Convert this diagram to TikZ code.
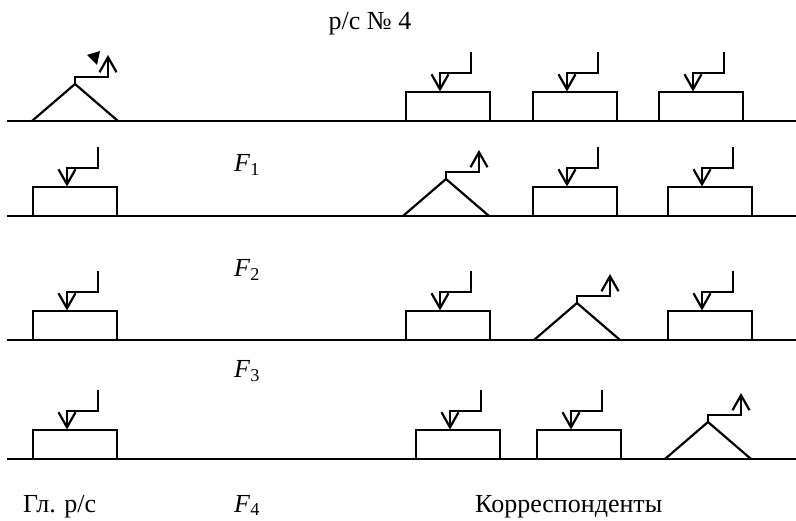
\documentclass[tikz,border=0pt]{standalone}
\usepackage{fontspec}
\setmainfont{Liberation Serif}
\usetikzlibrary{arrows.meta}
\tikzset{
  x=1pt, y=-1pt,
  thick line/.style={line width=2.2pt},
  ground/.style={line width=2.2pt},
  barb/.style={-{Straight Barb[length=15pt,width=17pt,line width=2.2pt]}},
  label text/.style={font=\fontsize{26}{30}\selectfont, inner sep=0pt, anchor=base},
  rxbox/.pic={
    \draw[thick line] (0,0) rectangle (84,-29);
    \draw[thick line, barb, line join=miter] (65,-69) -- (65,-48) -- (34,-48) -- (34,-29.5);
  },
  txstation/.pic={
    \draw[thick line, line join=miter] (0,0) -- (43,-37) -- (86,0);
    \draw[thick line, barb, line join=miter] (43,-37) -- (43,-44) -- (76,-44) -- (76,-66);
  }
}
\begin{document}
\begin{tikzpicture}
\useasboundingbox (0,0) rectangle (796,521);
% ground lines
\foreach \yy/\nm in {121/g1,216/g2,340/g3,459/g4}{
  \coordinate (\nm a) at (7,\yy);
  \coordinate (\nm b) at (796,\yy);
  \draw[ground] (\nm a) -- (\nm b);
}
% row 1
\pic at (32,121) {txstation};
\fill (87,55) -- (100,51) -- (97,65) -- cycle;
\pic at (406,121) {rxbox};
\pic at (533,121) {rxbox};
\pic at (659,121) {rxbox};
% row 2
\pic at (33,216) {rxbox};
\pic at (403,216) {txstation};
\pic at (533,216) {rxbox};
\pic at (668,216) {rxbox};
% row 3
\pic at (33,340) {rxbox};
\pic at (406,340) {rxbox};
\pic at (534,340) {txstation};
\pic at (668,340) {rxbox};
% row 4
\pic at (33,459) {rxbox};
\pic at (416,459) {rxbox};
\pic at (537,459) {rxbox};
\pic at (665,459) {txstation};
% labels
\node[label text] (title) at (370,30) {р/с № 4};
\node[label text, anchor=base west] (f1) at (234,172) {\textit{F}\textsubscript{1}};
\node[label text, anchor=base west] (f2) at (234,277) {\textit{F}\textsubscript{2}};
\node[label text, anchor=base west] (f3) at (234,378) {\textit{F}\textsubscript{3}};
\node[label text, anchor=base west] (f4) at (234,512) {\textit{F}\textsubscript{4}};
\node[label text, anchor=base west] (main) at (23,512) {Гл. р/с};
\node[label text, anchor=base west] (corr) at (475,512) {Корреспонденты};
\end{tikzpicture}
\end{document}
